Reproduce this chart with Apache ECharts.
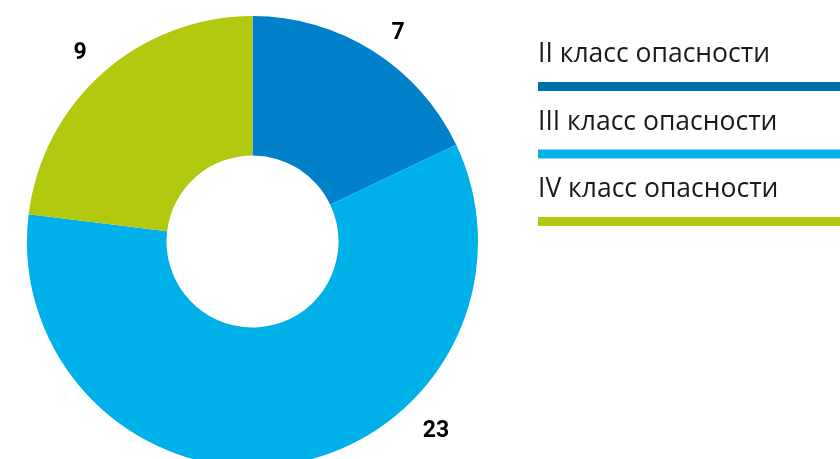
<!DOCTYPE html>
<html>
<head>
<meta charset="utf-8">
<script src="https://cdn.jsdelivr.net/npm/echarts@6/dist/echarts.min.js"></script>
<style>
  html, body { margin: 0; padding: 0; background: #fff; }
  #chart { width: 840px; height: 459px; }
</style>
</head>
<body>
<div id="chart"></div>
<script>
// Hazard classes and the number of items in each
const categories = ['II класс опасности', 'III класс опасности', 'IV класс опасности'];
const values = [7, 23, 9];
const sliceColors = ['#0081c9', '#00b1e9', '#b2c910'];
const legendColors = ['#006fa6', '#00b1e9', '#b2c910'];
// Where each value label sits
const labelSpots = [[398, 33], [436, 431], [80, 53]];

const chart = echarts.init(document.getElementById('chart'), null, { renderer: 'canvas' });

// Legend: caption text with a coloured band under it
const legendGraphics = [];
categories.forEach((name, i) => {
  const top = 38 + i * 67.5;
  legendGraphics.push({
    type: 'text',
    left: 538,
    top: top + 3,
    style: {
      text: name,
      font: '400 26.5px "Open Sans", sans-serif',
      fill: '#1a1a1a'
    }
  });
  legendGraphics.push({
    type: 'rect',
    left: 538,
    top: top + 44,
    shape: { width: 302, height: 9 },
    style: { fill: legendColors[i] }
  });
});

chart.setOption({
  animation: false,
  graphic: legendGraphics,
  series: [{
    type: 'pie',
    center: [252.5, 241.5],
    radius: [86, 225.5],
    startAngle: 90,
    clockwise: true,
    silent: true,
    data: categories.map((name, i) => ({
      name: name,
      value: values[i],
      itemStyle: { color: sliceColors[i] }
    })),
    label: {
      show: true,
      position: 'outside',
      formatter: '{c}',
      color: '#000',
      fontFamily: 'Roboto, sans-serif',
      fontWeight: 'bold',
      fontSize: 23
    },
    labelLine: { show: false },
    labelLayout: (params) => ({
      x: labelSpots[params.dataIndex][0],
      y: labelSpots[params.dataIndex][1],
      align: 'center',
      verticalAlign: 'middle'
    })
  }]
});
</script>
</body>
</html>
